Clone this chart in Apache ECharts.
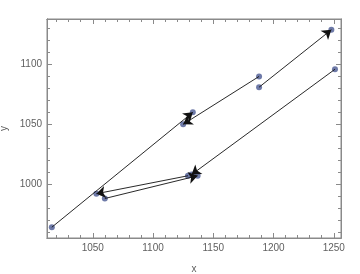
<!DOCTYPE html>
<html>
<head>
<meta charset="utf-8">
<script src="https://cdn.jsdelivr.net/npm/echarts@6/dist/echarts.min.js"></script>
<style>html,body{margin:0;padding:0;background:#fff}#c{width:360px;height:274px}</style>
</head>
<body>
<div id="c"></div>
<script>
// Points
var pointX = [1016, 1053, 1060, 1129, 1132, 1137, 1125, 1133, 1188, 1188, 1248, 1251];
var pointY = [964, 992, 988, 1007, 1008, 1007, 1050, 1060, 1090, 1081, 1129, 1096];
// Arrows (start -> end)
var arrowFromX = [1016, 1188, 1188, 1251, 1129, 1060];
var arrowFromY = [964, 1090, 1081, 1096, 1007, 988];
var arrowToX = [1133, 1125, 1248, 1132, 1053, 1137];
var arrowToY = [1060, 1050, 1129, 1008, 992, 1007];
// Ticks
var xMajor = [1050, 1100, 1150, 1200, 1250];
var yMajor = [1000, 1050, 1100];
var xMinor = [1020,1030,1040,1060,1070,1080,1090,1110,1120,1130,1140,1160,1170,1180,1190,1210,1220,1230,1240];
var yMinor = [960,970,980,990,1010,1020,1030,1040,1060,1070,1080,1090,1110,1120,1130];

var xMin = 1012, xMax = 1256, yMin = 955, yMax = 1138;
var frameColor = '#8a8a8a', labelColor = '#606060';
var font = 'Liberation Sans, Arial, sans-serif';
function gridRect(border) {
  return {left: 47, right: 19, top: 19, bottom: 36, outerBoundsMode: 'none',
    show: border, borderColor: frameColor, borderWidth: 1, backgroundColor: 'transparent'};
}
function fmtX(v) { return xMajor.indexOf(Math.round(v)) >= 0 && Math.abs(v - Math.round(v)) < 1e-6 ? String(Math.round(v)) : ''; }
function fmtY(v) { return yMajor.indexOf(Math.round(v)) >= 0 && Math.abs(v - Math.round(v)) < 1e-6 ? String(Math.round(v)) : ''; }

function mainX() {
  return {
    type: 'value', gridIndex: 0, position: 'bottom', min: xMin, max: xMax, splitNumber: 5,
    axisLine: {show: true, lineStyle: {color: frameColor}},
    axisTick: {show: true, inside: true, length: 5, customValues: xMajor, lineStyle: {color: frameColor}},
    axisLabel: {show: true, color: labelColor, fontSize: 10, fontFamily: font, margin: 5, formatter: fmtX},
    splitLine: {show: false},
    name: 'x', nameLocation: 'middle', nameGap: 26,
    nameTextStyle: {color: labelColor, fontSize: 10, fontFamily: font}
  };
}
function mainY() {
  return {
    type: 'value', gridIndex: 0, position: 'left', min: yMin, max: yMax, splitNumber: 4,
    axisLine: {show: true, lineStyle: {color: frameColor}},
    axisTick: {show: true, inside: true, length: 5, customValues: yMajor, lineStyle: {color: frameColor}},
    axisLabel: {show: true, color: labelColor, fontSize: 10, fontFamily: font, margin: 5, formatter: fmtY},
    splitLine: {show: false},
    name: 'y', nameLocation: 'middle', nameGap: 38, nameRotate: 90,
    nameTextStyle: {color: labelColor, fontSize: 10, fontFamily: font}
  };
}
function plainAx(grid, pos, min, max, ticks, len) {
  return {
    type: 'value', gridIndex: grid, position: pos, min: min, max: max,
    axisLine: {show: true, lineStyle: {color: frameColor}},
    axisTick: {show: true, inside: true, length: len, customValues: ticks, lineStyle: {color: frameColor}},
    axisLabel: {show: false},
    splitLine: {show: false}
  };
}

var pts = pointX.map(function (x, i) { return [x, pointY[i]]; });
var arrowLines = arrowFromX.map(function (x, i) {
  return [{coord: [x, arrowFromY[i]]}, {coord: [arrowToX[i], arrowToY[i]]}];
});

var chart = echarts.init(document.getElementById('c'), null, {renderer: 'canvas'});
chart.setOption({
  animation: false,
  grid: [gridRect(true), gridRect(false), gridRect(false), gridRect(false)],
  xAxis: [
    mainX(),
    plainAx(1, 'top', xMin, xMax, xMajor, 5),
    plainAx(2, 'bottom', xMin, xMax, xMinor, 3),
    plainAx(3, 'top', xMin, xMax, xMinor, 3)
  ],
  yAxis: [
    mainY(),
    plainAx(1, 'right', yMin, yMax, yMajor, 5),
    plainAx(2, 'left', yMin, yMax, yMinor, 3),
    plainAx(3, 'right', yMin, yMax, yMinor, 3)
  ],
  series: [
    {
      type: 'scatter', xAxisIndex: 0, yAxisIndex: 0, data: pts,
      symbol: 'circle', symbolSize: 6,
      itemStyle: {color: '#5e6b9e', opacity: 0.9},
      markLine: {
        silent: true, animation: false,
        symbol: ['none', 'arrow'], symbolSize: 9,
        label: {show: false},
        lineStyle: {type: 'solid', color: '#111', width: 0.9, opacity: 1},
        emphasis: {disabled: true},
        data: arrowLines
      }
    }
  ]
});
</script>
</body>
</html>
